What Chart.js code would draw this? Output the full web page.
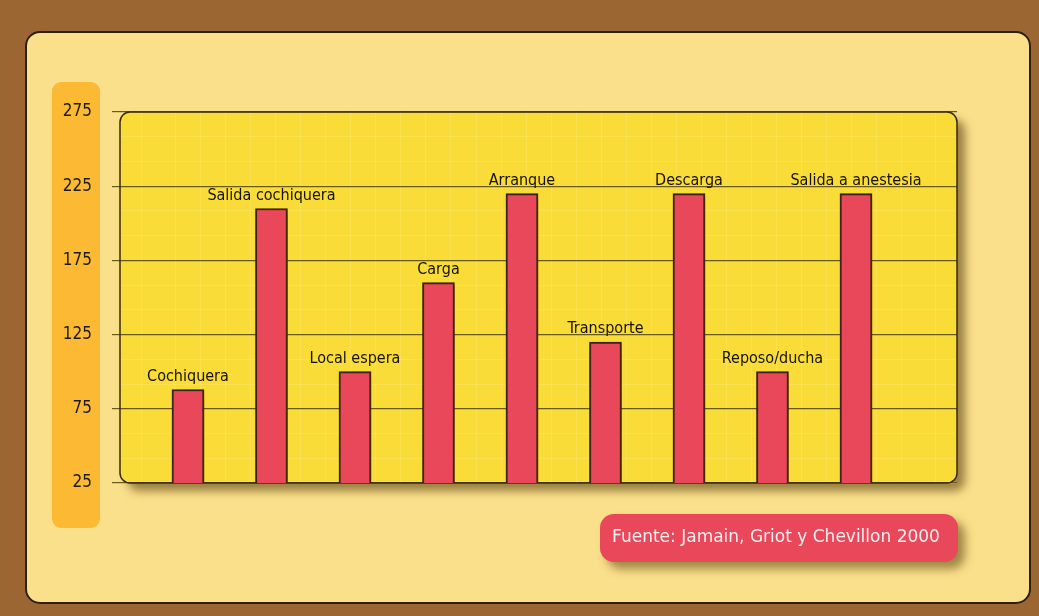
<!DOCTYPE html>
<html>
<head>
<meta charset="utf-8">
<script src="https://cdn.jsdelivr.net/npm/chart.js@4/dist/chart.umd.min.js"></script>
<style>
  html, body { margin: 0; padding: 0; background: #9c6633; }
  canvas { display: block; }
</style>
</head>
<body>
<canvas id="paramChart" width="1039" height="616"></canvas>
<script>
// data
var categories = ['Cochiquera', 'Salida cochiquera', 'Local espera', 'Carga', 'Arranque',
                  'Transporte', 'Descarga', 'Reposo/ducha', 'Salida a anestesia'];
var values = [88, 210, 100, 160, 220, 120, 220, 100, 220];
var tickLabels = [25, 75, 125, 175, 225, 275];
var sourceText = 'Fuente: Jamain, Griot y Chevillon 2000';

var labelFont = '16px "DejaVu Sans Condensed", "Liberation Sans", sans-serif';

function rrect(ctx, x, y, w, h, r) {
  ctx.beginPath();
  ctx.roundRect(x, y, w, h, r);
}

var decor = {
  id: 'decor',
  beforeDraw: function(chart) {
    var ctx = chart.ctx, ca = chart.chartArea;
    ctx.save();
    ctx.fillStyle = '#9c6633';
    ctx.fillRect(0, 0, chart.width, chart.height);
    // light panel
    rrect(ctx, 26, 32, 1004, 571, 14);
    ctx.fillStyle = '#fbe08b';
    ctx.fill();
    ctx.lineWidth = 2;
    ctx.strokeStyle = '#2e2010';
    ctx.stroke();
    // orange strip behind the ticks
    rrect(ctx, 52, 82, 48, 446, 9);
    ctx.fillStyle = '#fbb934';
    ctx.fill();
    // plot box with shadow
    ctx.shadowColor = 'rgba(70,45,0,0.55)';
    ctx.shadowBlur = 10;
    ctx.shadowOffsetX = 8;
    ctx.shadowOffsetY = 8;
    rrect(ctx, ca.left, ca.top, ca.right - ca.left, ca.bottom - ca.top, 10);
    ctx.fillStyle = '#f9dc37';
    ctx.fill();
    ctx.restore();
  },
  beforeDatasetsDraw: function(chart) {
    var ctx = chart.ctx, ca = chart.chartArea;
    ctx.save();
    rrect(ctx, ca.left, ca.top, ca.right - ca.left, ca.bottom - ca.top, 10);
    ctx.lineWidth = 1.5;
    ctx.strokeStyle = '#3a2a12';
    ctx.stroke();
    ctx.restore();
    ctx.save();
    ctx.shadowColor = 'rgba(80,50,0,0.5)';
    ctx.shadowBlur = 7;
    ctx.shadowOffsetX = 7;
    ctx.shadowOffsetY = 4;
  },
  afterDatasetsDraw: function(chart) {
    var ctx = chart.ctx;
    ctx.restore();
    var meta = chart.getDatasetMeta(0);
    ctx.save();
    ctx.font = labelFont;
    ctx.fillStyle = '#15120a';
    ctx.textAlign = 'center';
    ctx.textBaseline = 'bottom';
    meta.data.forEach(function(bar, i) {
      ctx.fillText(categories[i], bar.x, bar.y - 5);
    });
    ctx.restore();
  },
  afterDraw: function(chart) {
    var ctx = chart.ctx;
    ctx.save();
    ctx.shadowColor = 'rgba(70,45,0,0.5)';
    ctx.shadowBlur = 10;
    ctx.shadowOffsetX = 7;
    ctx.shadowOffsetY = 7;
    rrect(ctx, 600, 514, 358, 48, 14);
    ctx.fillStyle = '#e9485a';
    ctx.fill();
    ctx.restore();
    ctx.save();
    ctx.font = '17px "DejaVu Sans", sans-serif';
    ctx.fillStyle = '#fbeef0';
    ctx.textAlign = 'center';
    ctx.textBaseline = 'middle';
    ctx.fillText(sourceText, 776, 538);
    ctx.restore();
  }
};

var ctx = document.getElementById('paramChart');

var barGraph = new Chart(ctx, {
  type: 'bar',
  data: {
    datasets: [{
      label: 'Tiempo',
      data: values.map(function(v, i) { return { x: i, y: v }; }),
      backgroundColor: '#e9475a',
      borderColor: '#3b2213',
      borderWidth: 2,
      borderSkipped: 'bottom',
      barThickness: 32
    }]
  },
  options: {
    responsive: false,
    animation: false,
    layout: { padding: { top: 112, bottom: 133, right: 82, left: 0 } },
    plugins: { legend: { display: false }, tooltip: { enabled: false } },
    scales: {
      x: {
        type: 'linear',
        offset: false,
        min: -0.814,
        max: 9.21,
        ticks: { display: false, stepSize: 0.3 },
        border: { display: false },
        grid: { color: 'rgba(255,240,140,0.3)', drawTicks: false, lineWidth: 1 }
      },
      y2: {
        position: 'right',
        min: 25,
        max: 275,
        ticks: { display: false, stepSize: 50 / 3 },
        border: { display: false },
        grid: { color: 'rgba(255,240,140,0.3)', drawTicks: false },
        afterFit: function(s) { s.width = 0; }
      },
      y: {
        position: 'left',
        min: 25,
        max: 275,
        afterBuildTicks: function(s) {
          s.ticks = tickLabels.map(function(v) { return { value: v }; });
        },
        ticks: {
          padding: 20,
          color: '#1e1a10',
          font: { family: '"DejaVu Sans Condensed", "Liberation Sans", sans-serif', size: 17 }
        },
        border: { display: false },
        grid: { color: '#6a5a1a', lineWidth: 1.2, tickLength: 8 },
        afterFit: function(s) { s.width = 120; }
      }
    }
  },
  plugins: [decor]
});
</script>
</body>
</html>
